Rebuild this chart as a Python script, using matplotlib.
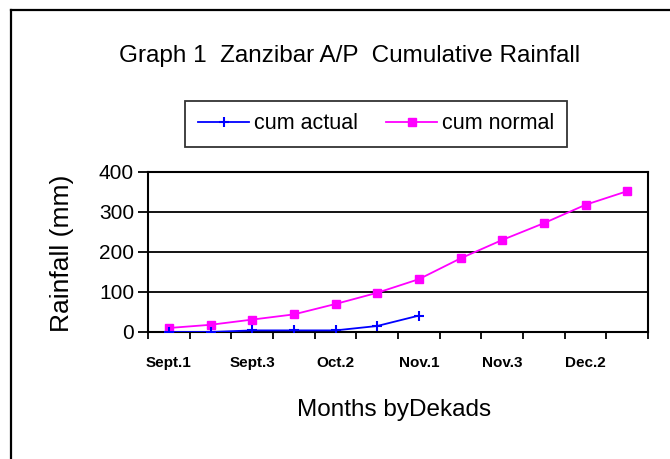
import numpy as np
import matplotlib
matplotlib.use('Agg')
import matplotlib.pyplot as plt
from matplotlib.lines import Line2D

plt.rcParams['font.family'] = ['Liberation Sans', 'DejaVu Sans']

# Dekads from September to December
dekads = ['Sept.1', 'Sept.2', 'Sept.3', 'Oct.1', 'Oct.2', 'Oct.3',
          'Nov.1', 'Nov.2', 'Nov.3', 'Dec.1', 'Dec.2', 'Dec.3']
cum_actual = [0, 0, 4, 4, 4, 15, 41]
cum_normal = [10, 18, 31, 44, 70, 98, 132, 184, 230, 272, 318, 352]

fig = plt.figure(figsize=(6.7, 4.59), dpi=100)
ax = fig.add_axes([0.2209, 0.2767, 0.7463, 0.3486])

x_norm = np.arange(len(cum_normal)) + 0.5
x_act = np.arange(len(cum_actual)) + 0.5

ax.plot(x_act, cum_actual, color='#0000ff', marker='+', markersize=7,
        markeredgewidth=1.5, linewidth=1.3, label='cum actual', zorder=4)
ax.plot(x_norm, cum_normal, color='#ff00ff', marker='s', markersize=6,
        linewidth=1.3, label='cum normal', zorder=3)

ax.set_xlim(0, 12)
ax.set_ylim(0, 400)
ax.set_yticks([0, 100, 200, 300, 400])
ax.yaxis.grid(True, color='black', linewidth=1.3)
ax.set_axisbelow(True)

# ticks at category boundaries, labels on every other category
ax.set_xticks(np.arange(0, 13))
ax.set_xticklabels([])
ax.set_xticks(np.arange(0, 12, 2) + 0.5, minor=True)
ax.set_xticklabels(dekads[::2], minor=True, fontsize=11, fontweight='bold')
ax.tick_params(axis='x', which='major', direction='out', length=5, width=1.3)
ax.tick_params(axis='x', which='minor', length=0, pad=17)
ax.tick_params(axis='y', direction='out', length=7, width=1.3, labelsize=15, pad=3)

for s in ax.spines.values():
    s.set_linewidth(1.5)
    s.set_color('black')

fig.text(0.522, 0.878, 'Graph 1  Zanzibar A/P  Cumulative Rainfall',
         ha='center', va='center', fontsize=17.5)
fig.text(0.588, 0.107, 'Months byDekads', ha='center', va='center', fontsize=17.5)
fig.text(0.092, 0.448, 'Rainfall (mm)', ha='center', va='center',
         rotation=90, fontsize=19)

leg = fig.legend(loc='center', bbox_to_anchor=(0.561, 0.730), ncol=2,
                 fontsize=15.5, frameon=True, fancybox=False, edgecolor='black',
                 handlelength=2.4, handletextpad=0.2, columnspacing=1.3,
                 borderpad=0.6, borderaxespad=0)
leg.get_frame().set_linewidth(1.3)

# outer frame (top and left edges visible)
fig.add_artist(Line2D([11 / 670, 1], [1 - 10 / 459, 1 - 10 / 459],
                      transform=fig.transFigure, color='black', linewidth=1.6))
fig.add_artist(Line2D([11 / 670, 11 / 670], [0, 1 - 10 / 459],
                      transform=fig.transFigure, color='black', linewidth=1.6))

fig.savefig('out.png', dpi=100)
